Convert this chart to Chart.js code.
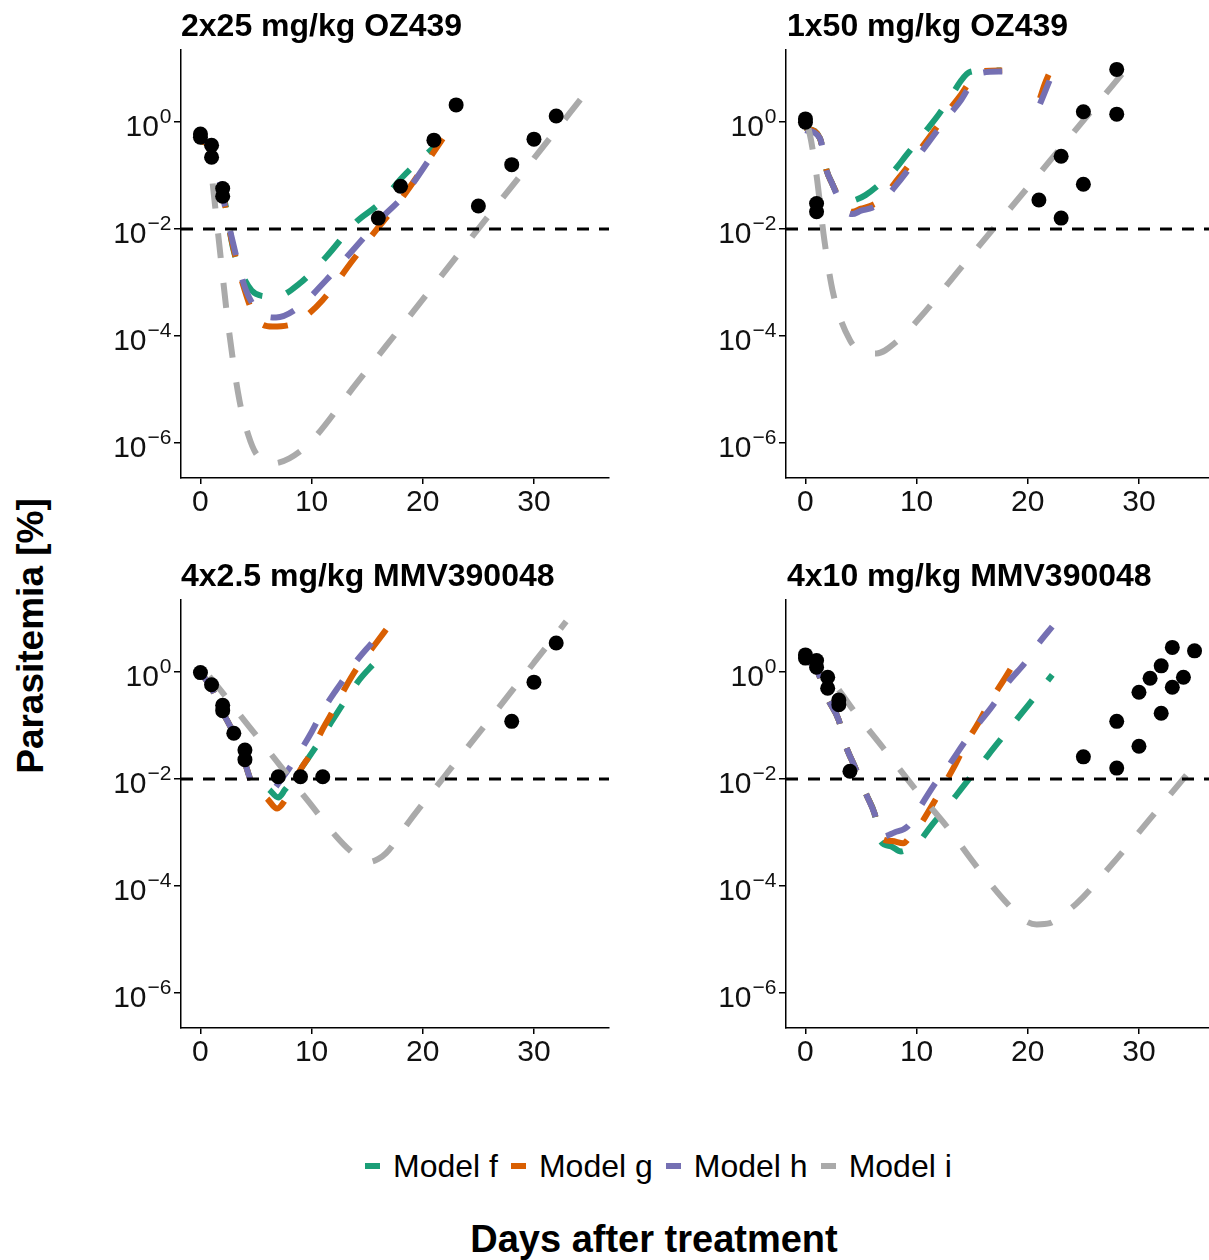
<!DOCTYPE html>
<html>
<head>
<meta charset="utf-8">
<script src="https://cdn.jsdelivr.net/npm/chart.js@4.4.1/dist/chart.umd.min.js"></script>
<style>
  html, body { margin:0; padding:0; background:#fff; overflow:hidden; }
  body { width:1209px; height:1260px; position:relative; font-family:"Liberation Sans", Arial, Helvetica, sans-serif; color:#000; }
  canvas { position:absolute; }
  .title { position:absolute; font-weight:bold; font-size:32px; line-height:32px; white-space:nowrap; }
  #ylab { position:absolute; left:30px; top:636px; font-weight:bold; font-size:37px; line-height:37px; white-space:nowrap;
          transform:translate(-50%,-50%) rotate(-90deg); }
  #xlab { position:absolute; left:654px; top:1220px; font-weight:bold; font-size:38px; line-height:38px; white-space:nowrap;
          transform:translateX(-50%); }
  #legend { position:absolute; left:365px; top:1150px; display:flex; align-items:center; height:32px; font-size:32px; line-height:32px; white-space:nowrap; }
  .sw { width:15px; height:6px; margin-right:13px; }
  .lt { margin-right:13px; }
</style>
</head>
<body>
<div id="ylab">Parasitemia [%]</div>
<div id="xlab">Days after treatment</div>
<div id="legend"></div>

<script>
// --- data (parasitemia in %) ---
const panelTitles = ["2x25 mg/kg OZ439", "1x50 mg/kg OZ439", "4x2.5 mg/kg MMV390048", "4x10 mg/kg MMV390048"];
const modelNames = ["Model f", "Model g", "Model h", "Model i"];
const modelColors = ["#1B9E77", "#D95F02", "#7570B3", "#AAAAAA"];

const xTicks = [0, 10, 20, 30];
const yTickExp = [0, -2, -4, -6];
const xMin = -1.75, xMax = 36.75;
const yMin = Math.pow(10, -6.66), yMax = Math.pow(10, 1.35);
const thresholdPct = 0.01;

// 2x25 mg/kg OZ439
const p1ObsDay = [0, 0, 1, 1, 2, 2, 16, 18, 21, 23, 25, 28, 30, 32];
const p1ObsPct = [0.6, 0.52, 0.37, 0.22, 0.057, 0.041, 0.016, 0.063, 0.46, 2.1, 0.027, 0.16, 0.48, 1.3];
const p1FDay = [0, 1, 1.7, 2.3, 2.9, 3.7, 4.6, 5.5, 6.8, 8.9, 11.3, 14.0, 16.1, 18.2, 21.2];
const p1FPct = [0.45, 0.32, 0.1, 0.025, 0.0047, 0.0015, 7.1e-4, 5.6e-4, 5.4e-4, 9.5e-4, 0.003, 0.0135, 0.03, 0.095, 0.37];
const p1GDay = [0, 1, 1.7, 2.8, 3.8, 5.0, 6.5, 8.0, 8.9, 11.0, 13.7, 15.8, 18.2, 21.8];
const p1GPct = [0.45, 0.32, 0.1, 0.0062, 9.5e-4, 2.1e-4, 1.5e-4, 1.6e-4, 1.9e-4, 4.7e-4, 0.0026, 0.0095, 0.04, 0.49];
const p1HDay = [0, 1, 1.7, 2.8, 4.1, 5.6, 6.8, 8.9, 11.3, 14.0, 16.4, 18.2, 20.9];
const p1HPct = [0.5, 0.32, 0.083, 0.0071, 7.1e-4, 2.5e-4, 2.2e-4, 3.5e-4, 0.0011, 0.0047, 0.017, 0.04, 0.25];
const p1IDay = [1.1, 1.7, 2.5, 3.5, 4.3, 5.0, 6.5, 8.0, 9.8, 14, 20, 26, 30, 34.9];
const p1IPct = [0.071, 0.005, 1.6e-4, 6.3e-6, 1.4e-6, 6.3e-7, 4.1e-7, 5.1e-7, 9.8e-7, 1.26e-5, 4.8e-4, 0.0186, 0.21, 4.1];

// 1x50 mg/kg OZ439
const p2ObsDay = [0, 0, 1, 1, 21, 23, 23, 25, 25, 28, 28];
const p2ObsPct = [1.15, 1.0, 0.03, 0.021, 0.035, 0.23, 0.016, 1.56, 0.069, 9.7, 1.41];
const p2FDay = [0, 1.3, 1.9, 2.4, 3.0, 3.7, 4.5, 5.4, 7.0, 8.0, 9.0, 10.0, 11.0, 12.0, 13.0, 14.0, 14.8, 16.2, 17.6];
const p2FPct = [0.79, 0.5, 0.126, 0.071, 0.04, 0.032, 0.035, 0.043, 0.079, 0.126, 0.23, 0.42, 0.76, 1.41, 2.8, 6.0, 8.7, 9.3, 9.3];
const p2GDay = [0, 1.3, 1.9, 2.4, 3.4, 4.2, 5.0, 6.0, 7.0, 8.0, 9.0, 10.0, 11.0, 12.0, 13.0, 14.0, 15.0, 15.8, 17.7, 19.5, 21.1, 21.5, 22.0];
const p2GPct = [0.79, 0.5, 0.126, 0.071, 0.028, 0.021, 0.024, 0.028, 0.038, 0.071, 0.13, 0.25, 0.48, 0.91, 1.78, 3.3, 6.6, 8.9, 9.3, null, 2.8, 5.0, 8.9];
const p2HDay = [0, 1.3, 1.9, 2.4, 3.4, 4.2, 5.0, 6.0, 7.0, 8.0, 9.0, 10.0, 11.0, 12.0, 13.0, 14.0, 15.0, 16.0, 17.7, 19.5, 21.1, 21.5, 22.0];
const p2HPct = [0.71, 0.5, 0.126, 0.071, 0.025, 0.019, 0.022, 0.025, 0.034, 0.06, 0.11, 0.21, 0.4, 0.76, 1.41, 2.6, 5.6, 8.5, 8.9, null, 2.2, 3.5, 6.3];
const p2IDay = [0.2, 0.5, 1.0, 1.7, 2.5, 4.0, 5.0, 6.4, 8.2, 10.3, 14, 18, 22, 26, 28.5];
const p2IPct = [0.87, 0.46, 0.1, 0.0062, 6.2e-4, 8.3e-5, 5.2e-5, 4.7e-5, 7.8e-5, 2.2e-4, 0.0019, 0.019, 0.19, 1.9, 8.1];

// 4x2.5 mg/kg MMV390048
const p3ObsDay = [0, 1, 2, 2, 3, 4, 4, 7, 9, 11, 28, 30, 32];
const p3ObsPct = [0.98, 0.58, 0.24, 0.19, 0.072, 0.035, 0.023, 0.011, 0.011, 0.011, 0.12, 0.65, 3.5];
const p3FDay = [0, 1, 2, 3, 3.5, 4, 4.5, 5.3, 6.2, 7.0, 7.6, 8.5, 10.2, 11.7, 12.8, 14.3, 15.6];
const p3FPct = [1.0, 0.5, 0.18, 0.071, 0.04, 0.02, 0.0095, null, 0.0063, 0.0045, 0.0063, 0.011, 0.035, 0.11, 0.25, 0.72, 1.45];
const p3GDay = [0, 1, 2, 3, 3.5, 4, 4.5, 5.3, 6.0, 6.9, 7.6, 8.3, 9.0, 10.0, 10.9, 11.8, 13.0, 14.1, 15.8, 16.9];
const p3GPct = [1.0, 0.5, 0.18, 0.071, 0.04, 0.02, 0.0095, null, 0.0043, 0.0028, 0.004, 0.0079, 0.015, 0.032, 0.079, 0.17, 0.5, 1.2, 3.5, 7.1];
const p3HDay = [0, 1, 2, 3, 3.5, 4, 4.5, 5.3, 6.8, 8.0, 9.0, 10.0, 11.0, 12.0, 13.0, 14.0, 15.4];
const p3HPct = [1.0, 0.5, 0.18, 0.071, 0.04, 0.02, 0.0095, null, 0.0072, 0.016, 0.034, 0.076, 0.19, 0.4, 0.79, 1.58, 3.5];
const p3IDay = [0.8, 2.0, 3.2, 4.4, 6.2, 7.7, 9.8, 12.2, 13.5, 14.5, 15.2, 16.0, 16.7, 17.5, 18.2, 22, 26, 30, 32.9];
const p3IPct = [0.83, 0.41, 0.195, 0.095, 0.032, 0.0129, 0.0036, 8.5e-4, 4.5e-4, 3.2e-4, 2.8e-4, 3.2e-4, 4.1e-4, 6.6e-4, 0.0011, 0.0115, 0.13, 1.5, 8.9];

// 4x10 mg/kg MMV390048
const p4ObsDay = [0, 0, 1, 1, 2, 2, 3, 3, 4, 25, 28, 28, 30, 30, 31, 32, 32, 33, 33, 34, 35];
const p4ObsPct = [2.1, 1.83, 1.65, 1.24, 0.8, 0.5, 0.3, 0.245, 0.014, 0.026, 0.12, 0.016, 0.42, 0.041, 0.77, 1.31, 0.17, 2.9, 0.52, 0.8, 2.5];
const p4FDay = [0, 1, 2, 3, 3.5, 4.5, 5.5, 6.2, 6.7, 7.7, 8.6, 9.3, 10.1, 11.4, 13.0, 14.4, 15.8, 17.1, 18.8, 20.1, 21.3, 22.2];
const p4FPct = [1.78, 1.12, 0.32, 0.126, 0.05, 0.0158, 0.005, 0.0023, 7.2e-4, 5.5e-4, 4.4e-4, 5e-4, 6.3e-4, 0.0014, 0.0035, 0.0083, 0.019, 0.042, 0.115, 0.25, 0.51, 0.89];
const p4GDay = [0, 1, 2, 3, 3.5, 4.5, 5.5, 6.2, 6.8, 7.8, 8.8, 9.5, 10.1, 11.5, 12.7, 13.5, 14.4, 15.6, 16.6, 18.1, 19.4];
const p4GPct = [1.78, 1.12, 0.32, 0.126, 0.05, 0.0158, 0.005, 0.0023, 7.8e-4, 6.9e-4, 6.3e-4, 8.9e-4, 0.0012, 0.0035, 0.0095, 0.019, 0.045, 0.117, 0.28, 0.87, 2.5];
const p4HDay = [0, 1, 2, 3, 3.5, 4.5, 5.5, 6.2, 6.9, 8.0, 9.2, 10.4, 11.6, 12.9, 14.4, 15.5, 16.8, 18.2, 19.7, 21.0, 22.2];
const p4HPct = [1.78, 1.12, 0.32, 0.126, 0.05, 0.0158, 0.005, 0.0023, 8.3e-4, 0.001, 0.0013, 0.0032, 0.0079, 0.018, 0.052, 0.105, 0.23, 0.63, 1.45, 3.5, 7.1];
const p4IDay = [3.0, 4.3, 7.0, 9.7, 12.7, 15.4, 18.4, 19.8, 20.8, 22.0, 23.0, 24.4, 27.4, 30.9, 35.0];
const p4IPct = [0.47, 0.195, 0.038, 0.0072, 0.0013, 2.3e-4, 4.1e-5, 2.2e-5, 1.9e-5, 2.0e-5, 2.8e-5, 4.7e-5, 2.3e-4, 0.0017, 0.018];

// --- layout (canvas boxes) ---
const YW = 100, XH = 50, PT = 12, PR = 8, PLOT_W = 428, PLOT_H = 428;
const boxes = [
  { left: 81,  top: 38 },
  { left: 686, top: 38 },
  { left: 81,  top: 588 },
  { left: 686, top: 588 }
];
const titlePos = [ { left: 181, top: 9 }, { left: 787, top: 9 }, { left: 181, top: 559 }, { left: 787, top: 559 } ];

const panels = [
  { obs: [p1ObsDay, p1ObsPct], curves: [[p1FDay, p1FPct], [p1GDay, p1GPct], [p1HDay, p1HPct], [p1IDay, p1IPct]] },
  { obs: [p2ObsDay, p2ObsPct], curves: [[p2FDay, p2FPct], [p2GDay, p2GPct], [p2HDay, p2HPct], [p2IDay, p2IPct]] },
  { obs: [p3ObsDay, p3ObsPct], curves: [[p3FDay, p3FPct], [p3GDay, p3GPct], [p3HDay, p3HPct], [p3IDay, p3IPct]] },
  { obs: [p4ObsDay, p4ObsPct], curves: [[p4FDay, p4FPct], [p4GDay, p4GPct], [p4HDay, p4HPct], [p4IDay, p4IPct]] }
];

const FONT = '"Liberation Sans", Arial, Helvetica, sans-serif';
const TXT = "#111";

function toXY(days, vals){ return days.map((d,i)=>({ x: d, y: vals[i] })); }

// y tick labels as 10 with superscript exponent
const yLabelPlugin = {
  id: "yLabels",
  afterDraw(chart){
    const ys = chart.scales.y, ctx = chart.ctx;
    const right = ys.right - 9.5;
    ctx.save();
    ctx.fillStyle = TXT;
    ctx.textAlign = "right";
    ctx.textBaseline = "alphabetic";
    yTickExp.forEach(e=>{
      const py = ys.getPixelForValue(Math.pow(10, e));
      const sup = e === 0 ? "0" : "\u2212" + Math.abs(e);
      ctx.font = "21px " + FONT;
      ctx.fillText(sup, right, py + 1);
      const w = ctx.measureText(sup).width;
      ctx.font = "30px " + FONT;
      ctx.fillText("10", right - w - 1, py + 14);
    });
    ctx.restore();
  }
};

function makePanel(idx){
  const b = boxes[idx], p = panels[idx];
  const cv = document.createElement("canvas");
  cv.width = YW + PLOT_W + PR;
  cv.height = PT + PLOT_H + XH;
  cv.style.left = b.left + "px";
  cv.style.top = b.top + "px";
  document.body.appendChild(cv);

  const t = document.createElement("div");
  t.className = "title";
  t.textContent = panelTitles[idx];
  t.style.left = titlePos[idx].left + "px";
  t.style.top = titlePos[idx].top + "px";
  document.body.appendChild(t);

  const datasets = [];
  datasets.push({
    data: toXY(p.obs[0], p.obs[1]), showLine: false,
    pointRadius: 7.5, pointBackgroundColor: "#000", pointBorderWidth: 0, order: 0
  });
  datasets.push({
    data: [{ x: xMin, y: thresholdPct }, { x: xMax, y: thresholdPct }],
    borderColor: "#000", borderWidth: 3, borderDash: [12, 10], pointRadius: 0, order: 1
  });
  p.curves.forEach((c,i)=>{
    datasets.push({
      label: modelNames[i],
      data: toXY(c[0], c[1]),
      borderColor: modelColors[i], borderWidth: 6, borderDash: [25, 25],
      pointRadius: 0, spanGaps: false, cubicInterpolationMode: "monotone",
      order: 5 - i
    });
  });

  const gridOpt = (len)=>({ drawOnChartArea: false, drawTicks: true, tickLength: len, color: "#000", lineWidth: 1.5 });

  new Chart(cv.getContext("2d"), {
    type: "line",
    data: { datasets },
    options: {
      responsive: false, animation: false, events: [],
      layout: { padding: { top: PT, right: PR, left: 0, bottom: 0 } },
      plugins: { legend: { display: false }, tooltip: { enabled: false } },
      scales: {
        x: {
          type: "linear", min: xMin, max: xMax,
          afterBuildTicks: s => { s.ticks = xTicks.map(v=>({ value: v })); },
          afterFit: s => { s.height = XH; },
          grid: gridOpt(6),
          border: { display: true, color: "#000", width: 1.5 },
          ticks: { font: { family: FONT, size: 30 }, color: TXT, padding: 1, maxRotation: 0, autoSkip: false }
        },
        y: {
          type: "logarithmic", min: yMin, max: yMax, bounds: "data",
          afterBuildTicks: s => { s.ticks = yTickExp.map(e=>({ value: Math.pow(10, e) })); },
          afterFit: s => { s.width = YW; },
          grid: gridOpt(7),
          border: { display: true, color: "#000", width: 1.5 },
          ticks: { callback: () => "", font: { size: 2 }, padding: 0, autoSkip: false }
        }
      }
    },
    plugins: [yLabelPlugin]
  });
}

[0,1,2,3].forEach(makePanel);

// legend
const lg = document.getElementById("legend");
modelNames.forEach((n,i)=>{
  const sw = document.createElement("div");
  sw.className = "sw";
  sw.style.background = modelColors[i];
  const tx = document.createElement("div");
  tx.className = "lt";
  tx.textContent = n;
  lg.appendChild(sw);
  lg.appendChild(tx);
});
</script>
</body>
</html>
